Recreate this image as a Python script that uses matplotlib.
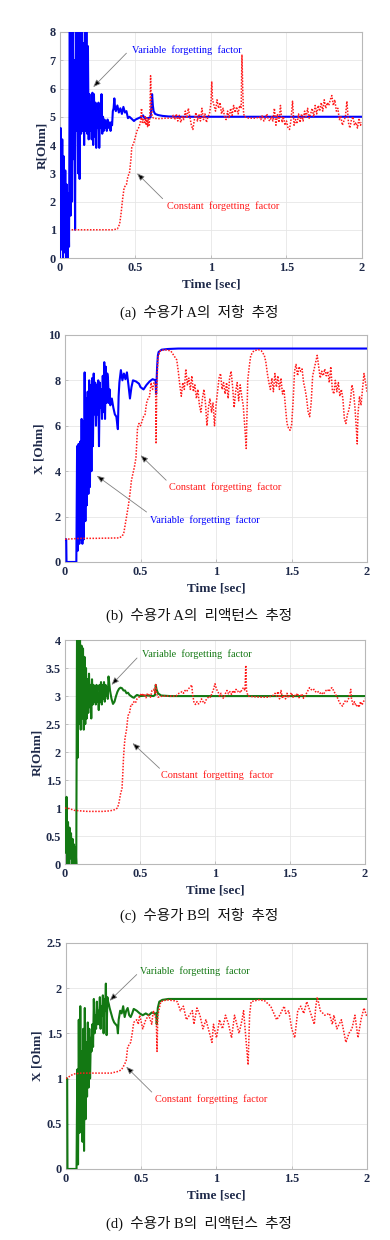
import matplotlib
matplotlib.use('Agg')
import matplotlib.pyplot as plt
from matplotlib.ticker import FuncFormatter

plt.rcParams['font.family'] = ['Liberation Serif', 'Noto Sans CJK KR', 'DejaVu Sans']

# ── Data ──────────────────────────────────────────────────────────────────
# (a) consumer A, resistance
a_var_t = [0.000, 0.005, 0.010, 0.015, 0.020, 0.025, 0.030, 0.035, 0.040, 0.045,
           0.050, 0.055, 0.060, 0.065, 0.070, 0.075, 0.080, 0.085, 0.090, 0.095,
           0.100, 0.105, 0.110, 0.115, 0.120, 0.125, 0.130, 0.135, 0.140, 0.145,
           0.150, 0.155, 0.160, 0.165, 0.170, 0.175, 0.180, 0.185, 0.190, 0.195,
           0.200, 0.205, 0.210, 0.215, 0.220, 0.225, 0.230, 0.235, 0.240, 0.245,
           0.250, 0.255, 0.260, 0.265, 0.270, 0.275, 0.280, 0.285, 0.290, 0.295,
           0.300, 0.305, 0.310, 0.315, 0.320, 0.325, 0.330, 0.335, 0.340, 0.345,
           0.350, 0.355, 0.360, 0.365, 0.37, 0.38, 0.39, 0.40, 0.41, 0.42, 0.43,
           0.44, 0.45, 0.46, 0.47, 0.48, 0.49, 0.50, 0.52, 0.54, 0.55, 0.56, 0.58,
           0.60, 0.605, 0.61, 0.615, 0.62, 0.63, 0.65, 0.68, 0.72, 0.80, 2.00]
a_var_v = [0.0, 4.6, 0.3, 4.2, 0.0, 3.6, 0.2, 3.1, 0.0, 2.6,
           0.0, 2.3, 0.4, 8.5, 1.5, 8.5, 2.0, 8.5, 3.5, 7.0,
           1.0, 8.5, 4.5, 8.5, 3.0, 8.5, 2.8, 8.5, 4.4, 8.5,
           4.5, 7.6, 4.0, 8.5, 4.5, 8.5, 4.4, 7.5, 4.2, 5.8,
           4.5, 5.5, 4.2, 5.85, 4.0, 5.8, 4.3, 5.5, 3.9, 5.2,
           4.6, 5.5, 3.9, 5.2, 4.6, 5.8, 4.4, 5.0, 4.5, 4.9,
           4.6, 4.8, 4.5, 4.9, 4.7, 4.6, 4.8, 4.5, 4.8, 4.7,
           5.2, 5.3, 5.65, 5.3, 5.2, 5.4, 5.15, 5.3, 5.1, 5.35, 5.15,
           5.2, 4.95, 5.0, 4.95, 4.9, 4.85, 4.9, 4.95, 5.0, 5.05, 4.95, 4.95,
           4.98, 5.3, 5.8, 5.4, 5.2, 5.1, 5.06, 5.03, 5.01, 5.0, 5.0]
a_const_t = [0.077, 0.2, 0.35, 0.38, 0.395, 0.405, 0.415, 0.425, 0.44, 0.45, 0.46,
             0.47, 0.475, 0.49, 0.50, 0.51, 0.52, 0.53, 0.535, 0.54, 0.545, 0.55,
             0.56, 0.565, 0.57, 0.575, 0.58, 0.585, 0.59, 0.595, 0.600, 0.605, 0.61,
             0.62, 0.65, 0.70, 0.74, 0.75, 0.76, 0.77, 0.78, 0.79, 0.80, 0.81, 0.82,
             0.83, 0.84, 0.85, 0.86, 0.87, 0.88, 0.89, 0.90, 0.91, 0.92, 0.93, 0.94,
             0.95, 0.96, 0.97, 0.98, 0.99, 1.0, 1.005, 1.01, 1.02, 1.03, 1.04, 1.05,
             1.06, 1.07, 1.08, 1.09, 1.10, 1.11, 1.12, 1.13, 1.14, 1.15, 1.16, 1.17,
             1.18, 1.19, 1.20, 1.205, 1.21, 1.215, 1.22, 1.25, 1.30, 1.32, 1.33, 1.34,
             1.35, 1.36, 1.37, 1.38, 1.39, 1.40, 1.41, 1.42, 1.43, 1.44, 1.45, 1.46,
             1.47, 1.48, 1.49, 1.50, 1.51, 1.52, 1.53, 1.54, 1.55, 1.56, 1.57, 1.58,
             1.59, 1.60, 1.61, 1.62, 1.63, 1.64, 1.65, 1.66, 1.67, 1.68, 1.69, 1.70,
             1.71, 1.72, 1.73, 1.74, 1.75, 1.76, 1.77, 1.78, 1.79, 1.80, 1.81, 1.82,
             1.83, 1.84, 1.85, 1.86, 1.87, 1.88, 1.89, 1.90, 1.91, 1.92, 1.93, 1.94,
             1.95, 1.96, 1.97, 1.98, 1.99, 2.0]
a_const_v = [1.0, 1.0, 1.0, 1.03, 1.2, 1.6, 2.1, 2.5, 2.6, 2.9, 3.0,
             3.5, 3.9, 4.1, 4.3, 4.5, 4.6, 4.75, 4.9, 5.3, 4.8, 4.9,
             4.75, 5.0, 4.7, 4.95, 4.65, 4.9, 4.7, 5.0, 6.45, 5.5, 5.0,
             4.95, 4.93, 4.95, 4.95, 5.05, 4.9, 5.1, 4.85, 5.05, 4.8, 5.0, 4.9,
             5.2, 4.95, 5.3, 5.0, 4.7, 4.55, 4.9, 5.15, 4.85, 5.1, 4.85, 5.3,
             4.9, 5.1, 4.8, 5.0, 5.1, 5.5, 6.25, 5.6, 5.4, 5.2, 5.6, 5.3,
             5.5, 5.1, 5.3, 5.0, 4.9, 5.2, 4.95, 5.3, 5.05, 5.4, 5.15, 5.35,
             5.1, 5.4, 5.3, 7.2, 6.0, 5.2, 5.0, 4.95, 4.95, 5.0, 4.9, 5.05,
             4.85, 4.95, 5.1, 4.9, 4.85, 5.0, 4.85, 5.3, 4.7, 5.1, 4.8, 5.4,
             4.8, 5.0, 4.7, 4.85, 4.6, 4.55, 4.9, 5.55, 4.7, 4.9, 4.75, 5.1,
             4.8, 5.1, 4.85, 5.2, 5.0, 5.3, 4.95, 5.1, 5.3, 5.0, 5.4, 5.1,
             5.4, 5.2, 5.5, 5.2, 5.6, 5.3, 5.5, 5.4, 5.6, 5.75, 5.4, 5.6,
             5.2, 5.3, 4.9, 5.0, 4.7, 4.85, 5.0, 5.55, 4.8, 4.6, 4.9, 5.0,
             4.7, 4.8, 4.6, 4.95, 4.7, 4.8]

# (b) consumer A, reactance
b_var_t = [0.0, 0.008, 0.010, 0.075, 0.080, 0.085, 0.090, 0.095, 0.100, 0.105,
           0.110, 0.115, 0.120, 0.125, 0.130, 0.135, 0.140, 0.145, 0.150, 0.155,
           0.160, 0.165, 0.170, 0.175, 0.180, 0.185, 0.190, 0.195, 0.200, 0.205,
           0.210, 0.215, 0.220, 0.225, 0.230, 0.235, 0.240, 0.245, 0.250, 0.255,
           0.260, 0.265, 0.270, 0.275, 0.280, 0.285, 0.290, 0.295, 0.300, 0.310,
           0.320, 0.330, 0.340, 0.350, 0.355, 0.360, 0.370, 0.38, 0.39, 0.40, 0.41,
           0.42, 0.43, 0.44, 0.45, 0.47, 0.49, 0.50, 0.52, 0.54, 0.56, 0.58, 0.60,
           0.603, 0.61, 0.615, 0.62, 0.64, 0.68, 0.75, 2.0]
b_var_v = [1.0, 1.0, 0.0, 0.0, 5.1, 0.5, 5.2, 0.8, 5.3, 1.0,
           6.3, 0.8, 6.2, 1.0, 8.35, 1.8, 7.2, 2.5, 7.5, 3.0,
           8.0, 3.3, 7.8, 4.0, 8.1, 5.1, 8.3, 6.5, 7.9, 6.0,
           7.8, 6.5, 8.0, 5.1, 7.9, 6.8, 7.6, 6.3, 8.2, 6.6,
           8.8, 6.3, 8.6, 7.0, 8.3, 8.0, 7.0, 7.6, 6.9, 7.2,
           6.8, 6.5, 6.4, 5.85, 7.3, 7.9, 8.45, 8.0, 8.3, 8.05, 8.35,
           7.8, 7.2, 7.7, 8.0, 7.95, 7.85, 7.7, 7.6, 7.8, 7.95, 8.05, 8.0,
           7.4, 8.6, 9.1, 9.25, 9.35, 9.38, 9.4, 9.4]
b_const_t = [0.0, 0.05, 0.1, 0.2, 0.3, 0.36, 0.38, 0.39, 0.40, 0.41, 0.42, 0.43,
             0.44, 0.45, 0.46, 0.47, 0.48, 0.49, 0.50, 0.51, 0.52, 0.53, 0.54, 0.55,
             0.56, 0.57, 0.58, 0.59, 0.60, 0.603, 0.607, 0.615, 0.63, 0.66, 0.70,
             0.72, 0.74, 0.75, 0.76, 0.77, 0.78, 0.79, 0.80, 0.81, 0.82, 0.83, 0.84,
             0.85, 0.86, 0.87, 0.88, 0.89, 0.90, 0.91, 0.92, 0.93, 0.94, 0.95, 0.96,
             0.97, 0.98, 0.99, 1.00, 1.01, 1.02, 1.03, 1.04, 1.05, 1.06, 1.07, 1.08,
             1.09, 1.10, 1.11, 1.12, 1.13, 1.14, 1.15, 1.16, 1.17, 1.18, 1.19, 1.20,
             1.205, 1.21, 1.22, 1.23, 1.25, 1.28, 1.30, 1.32, 1.33, 1.34, 1.35, 1.36,
             1.37, 1.38, 1.39, 1.40, 1.41, 1.42, 1.43, 1.44, 1.45, 1.46, 1.47, 1.48,
             1.49, 1.50, 1.51, 1.52, 1.53, 1.54, 1.55, 1.56, 1.57, 1.58, 1.59, 1.60,
             1.61, 1.62, 1.63, 1.64, 1.65, 1.66, 1.67, 1.68, 1.69, 1.70, 1.71, 1.72,
             1.73, 1.74, 1.75, 1.76, 1.77, 1.78, 1.79, 1.80, 1.81, 1.82, 1.83, 1.84,
             1.85, 1.86, 1.87, 1.88, 1.89, 1.90, 1.91, 1.92, 1.93, 1.935, 1.94, 1.95,
             1.96, 1.97, 1.98, 1.99, 2.0]
b_const_v = [1.0, 1.02, 1.04, 1.04, 1.05, 1.06, 1.15, 1.3, 1.7, 2.1, 2.5, 3.0,
             3.6, 3.9, 4.2, 4.6, 5.9, 6.1, 6.0, 6.2, 6.4, 6.5, 7.0, 7.2,
             7.3, 7.9, 7.6, 7.9, 7.8, 5.2, 7.5, 9.0, 9.3, 9.35, 9.3,
             9.1, 8.9, 8.4, 7.8, 7.3, 7.9, 7.6, 8.5, 7.8, 8.1, 7.6, 8.2,
             7.5, 7.8, 7.2, 7.6, 6.9, 6.6, 7.2, 7.6, 7.0, 6.0, 6.8, 7.2,
             6.6, 7.0, 6.0, 6.9, 7.5, 8.1, 8.3, 7.6, 7.9, 7.4, 7.9, 7.2,
             8.1, 8.4, 7.7, 6.8, 7.5, 7.9, 7.1, 7.8, 7.3, 6.9, 6.0, 5.0,
             6.5, 8.0, 8.6, 9.1, 9.3, 9.35, 9.3, 9.1, 8.8, 8.3, 7.9, 7.6,
             8.1, 7.5, 8.3, 7.7, 8.2, 7.6, 8.1, 7.4, 7.6, 6.8, 6.1, 5.9,
             5.8, 6.0, 7.0, 8.4, 8.7, 8.2, 8.6, 8.4, 8.5, 7.9, 7.6, 7.2,
             6.6, 6.4, 7.0, 8.2, 8.5, 8.8, 9.1, 8.6, 8.1, 8.4, 8.2, 8.5,
             8.2, 8.4, 7.9, 8.6, 7.6, 7.4, 8.0, 7.5, 7.9, 7.3, 7.6, 7.2,
             6.3, 6.1, 6.5, 6.7, 7.1, 7.8, 7.5, 6.8, 5.8, 5.2, 6.5, 7.3,
             6.9, 7.6, 8.3, 7.9, 7.5]

# (c) consumer B, resistance
c_var_t = [0.000, 0.005, 0.010, 0.015, 0.020, 0.025, 0.030, 0.035, 0.040, 0.045,
           0.050, 0.055, 0.060, 0.065, 0.070, 0.075, 0.080, 0.085, 0.090, 0.095,
           0.100, 0.105, 0.110, 0.115, 0.120, 0.125, 0.130, 0.135, 0.140, 0.145,
           0.150, 0.155, 0.160, 0.165, 0.170, 0.175, 0.180, 0.185, 0.190, 0.195,
           0.200, 0.205, 0.210, 0.215, 0.220, 0.225, 0.230, 0.235, 0.240, 0.245,
           0.250, 0.255, 0.260, 0.265, 0.270, 0.275, 0.280, 0.285, 0.29, 0.30,
           0.31, 0.32, 0.33, 0.34, 0.35, 0.36, 0.37, 0.38, 0.39, 0.40, 0.41, 0.42,
           0.43, 0.44, 0.45, 0.46, 0.47, 0.48, 0.50, 0.55, 0.59, 0.60, 0.605, 0.61,
           0.62, 0.64, 0.70, 2.0]
c_var_v = [1.0, 0.2, 1.2, 0.0, 0.75, 0.0, 0.65, 0.1, 0.55, 0.0,
           0.45, 0.0, 0.35, 0.0, 0.3, 0.0, 4.1, 1.9, 4.1, 2.5,
           4.1, 2.4, 3.9, 2.6, 3.85, 2.4, 3.7, 2.5, 3.5, 2.6,
           3.3, 2.7, 3.4, 2.8, 3.2, 2.6, 3.3, 2.85, 3.2, 2.9,
           3.1, 2.85, 3.2, 2.9, 3.05, 2.75, 3.2, 2.9, 3.25, 2.85,
           3.2, 2.95, 3.25, 2.9, 3.2, 3.0, 3.15, 2.95, 3.35, 3.1,
           2.95, 2.86, 2.9, 3.0, 3.08, 3.13, 3.15, 3.14, 3.1, 3.1, 3.05, 3.06,
           3.02, 3.0, 2.98, 2.97, 3.0, 3.02, 3.0, 3.01, 3.0, 3.02, 3.2, 3.12,
           3.05, 3.01, 3.0, 3.0]
c_const_t = [0.0, 0.03, 0.06, 0.1, 0.15, 0.25, 0.3, 0.33, 0.35, 0.36, 0.37, 0.38,
             0.385, 0.39, 0.395, 0.40, 0.41, 0.42, 0.43, 0.44, 0.45, 0.46, 0.47,
             0.48, 0.49, 0.50, 0.51, 0.52, 0.53, 0.54, 0.55, 0.56, 0.57, 0.58, 0.59,
             0.60, 0.605, 0.61, 0.62, 0.65, 0.70, 0.74, 0.75, 0.76, 0.77, 0.78, 0.79,
             0.80, 0.81, 0.82, 0.83, 0.84, 0.845, 0.85, 0.86, 0.87, 0.88, 0.89, 0.90,
             0.91, 0.92, 0.93, 0.94, 0.95, 0.96, 0.97, 0.98, 0.99, 1.00, 1.01, 1.02,
             1.03, 1.04, 1.05, 1.06, 1.07, 1.08, 1.09, 1.10, 1.11, 1.12, 1.13, 1.14,
             1.15, 1.16, 1.17, 1.18, 1.19, 1.20, 1.205, 1.21, 1.22, 1.25, 1.30, 1.35,
             1.38, 1.39, 1.40, 1.41, 1.42, 1.43, 1.44, 1.45, 1.46, 1.47, 1.48, 1.49,
             1.50, 1.51, 1.52, 1.53, 1.54, 1.55, 1.56, 1.57, 1.58, 1.59, 1.60, 1.61,
             1.62, 1.63, 1.64, 1.65, 1.66, 1.67, 1.68, 1.69, 1.70, 1.71, 1.72, 1.73,
             1.74, 1.75, 1.76, 1.77, 1.78, 1.79, 1.80, 1.81, 1.82, 1.83, 1.84, 1.85,
             1.86, 1.87, 1.88, 1.89, 1.90, 1.905, 1.91, 1.92, 1.93, 1.94, 1.95, 1.96,
             1.97, 1.98, 1.99, 2.0]
c_const_v = [1.0, 0.99, 0.96, 0.95, 0.94, 0.94, 0.95, 0.97, 1.0, 1.1, 1.25, 1.35,
             1.6, 1.9, 2.1, 2.25, 2.4, 2.65, 2.7, 2.85, 2.85, 2.9, 2.88,
             2.95, 2.97, 3.0, 3.05, 3.0, 3.04, 2.97, 3.05, 3.02, 2.98, 3.1, 3.12,
             3.05, 3.22, 3.05, 2.98, 3.0, 3.0, 3.0, 3.03, 3.05, 3.06, 3.08, 3.05,
             3.1, 3.08, 3.12, 3.15, 3.18, 3.2, 3.05, 2.88, 2.85, 2.9, 2.86, 2.88,
             2.95, 2.9, 2.87, 2.93, 2.96, 3.0, 2.98, 3.05, 3.12, 3.22, 3.12, 3.08,
             3.0, 3.05, 2.97, 2.96, 3.05, 3.1, 3.04, 3.08, 3.03, 3.1, 3.05, 3.12,
             3.08, 3.1, 3.06, 3.12, 3.15, 3.1, 3.55, 3.1, 3.0, 2.99, 2.98, 2.98,
             3.0, 3.02, 3.05, 3.0, 3.08, 2.95, 3.1, 2.96, 3.02, 2.95, 3.05, 2.97,
             3.02, 3.06, 2.98, 3.02, 3.0, 3.05, 2.97, 3.0, 3.04, 2.96, 3.0, 3.05,
             3.1, 3.15, 3.12, 3.1, 3.12, 3.08, 3.06, 3.08, 3.05, 3.07, 3.03, 3.06,
             3.1, 3.12, 3.08, 3.13, 3.15, 3.1, 3.05, 3.0, 2.95, 2.88, 2.85, 2.82,
             2.88, 2.92, 2.9, 2.95, 3.05, 3.12, 2.95, 2.85, 2.9, 2.82, 2.85, 2.8,
             2.9, 2.84, 2.9, 2.95]

# (d) consumer B, reactance
d_var_t = [0.0, 0.008, 0.010, 0.070, 0.075, 0.080, 0.085, 0.090, 0.095, 0.100,
           0.105, 0.110, 0.115, 0.120, 0.125, 0.130, 0.135, 0.140, 0.145, 0.150,
           0.155, 0.160, 0.165, 0.170, 0.175, 0.180, 0.185, 0.190, 0.195, 0.200,
           0.205, 0.210, 0.215, 0.220, 0.225, 0.230, 0.235, 0.240, 0.245, 0.250,
           0.255, 0.260, 0.265, 0.270, 0.275, 0.280, 0.285, 0.290, 0.30, 0.31,
           0.32, 0.33, 0.34, 0.345, 0.35, 0.36, 0.37, 0.38, 0.39, 0.40, 0.41, 0.42,
           0.43, 0.44, 0.45, 0.47, 0.49, 0.51, 0.53, 0.55, 0.57, 0.59, 0.60, 0.603,
           0.61, 0.62, 0.64, 0.68, 2.0]
d_var_v = [1.0, 1.0, 0.0, 0.0, 1.1, 0.05, 1.65, 0.4, 1.8, 0.6,
           1.3, 0.3, 1.55, 0.2, 1.78, 0.55, 1.4, 0.8, 1.62, 0.9,
           1.55, 1.0, 1.45, 1.3, 1.6, 1.35, 1.88, 1.5, 1.7, 1.55,
           1.85, 1.6, 1.75, 1.6, 1.9, 1.55, 1.8, 1.7, 1.92, 1.5,
           1.88, 1.75, 2.05, 1.48, 1.9, 1.85, 1.82, 1.78, 1.72, 1.66,
           1.62, 1.6, 1.58, 1.5, 1.65, 1.75, 1.72, 1.8, 1.68, 1.75, 1.78, 1.7,
           1.68, 1.72, 1.77, 1.75, 1.72, 1.7, 1.72, 1.7, 1.73, 1.72, 1.72, 1.6,
           1.78, 1.85, 1.87, 1.88, 1.88]
d_const_t = [0.0, 0.02, 0.05, 0.1, 0.2, 0.3, 0.35, 0.37, 0.39, 0.40, 0.41, 0.43,
             0.44, 0.45, 0.47, 0.48, 0.49, 0.51, 0.53, 0.55, 0.57, 0.58, 0.60,
             0.605, 0.61, 0.63, 0.67, 0.72, 0.74, 0.76, 0.78, 0.80, 0.82, 0.84,
             0.85, 0.87, 0.89, 0.91, 0.93, 0.97, 0.98, 1.00, 1.02, 1.04, 1.06,
             1.08, 1.10, 1.12, 1.15, 1.17, 1.18, 1.21, 1.22, 1.23, 1.28, 1.32,
             1.36, 1.40, 1.42, 1.45, 1.46, 1.48, 1.50, 1.52, 1.54, 1.56, 1.58,
             1.60, 1.62, 1.65, 1.66, 1.67, 1.69, 1.72, 1.75, 1.77, 1.78, 1.80,
             1.83, 1.86, 1.88, 1.90, 1.92, 1.94, 1.96, 1.98, 2.0]
d_const_v = [1.0, 1.02, 1.05, 1.06, 1.06, 1.06, 1.08, 1.1, 1.16, 1.2, 1.35, 1.4,
             1.5, 1.62, 1.65, 1.6, 1.7, 1.55, 1.65, 1.7, 1.6, 1.75, 1.65,
             1.3, 1.7, 1.85, 1.87, 1.86, 1.85, 1.75, 1.8, 1.65, 1.7, 1.75,
             1.6, 1.78, 1.7, 1.55, 1.65, 1.4, 1.6, 1.45, 1.65, 1.55, 1.7,
             1.6, 1.45, 1.7, 1.5, 1.65, 1.75, 1.15, 1.7, 1.85, 1.87, 1.86,
             1.8, 1.65, 1.7, 1.8, 1.72, 1.75, 1.55, 1.45, 1.75, 1.8, 1.72,
             1.85, 1.75, 1.6, 1.8, 1.9, 1.75, 1.7, 1.72, 1.6, 1.7, 1.55,
             1.65, 1.4, 1.5, 1.55, 1.7, 1.45, 1.65, 1.78, 1.68]

# ── Styling ───────────────────────────────────────────────────────────────
BLUE = '#0000ff'
GREEN = '#137813'
RED = '#ff1a1a'
NAVY = '#1f2a4a'
SPINE = '#b8b8b8'
GRID = '#e6e6e6'

TXT_VAR = 'Variable  forgetting  factor'
TXT_CON = 'Constant  forgetting  factor'

panels = [
    dict(rect=[0.1538, 0.7919, 0.7744, 0.1823], var=(a_var_t, a_var_v),
         con=(a_const_t, a_const_v), col=BLUE, ylim=8, yticks=[0, 1, 2, 3, 4, 5, 6, 7, 8],
         ylabel='R[Ohm]', ylab_x=-0.04, caption='(a)  수용가 A의  저항  추정', cap_y=312,
         var_txt=(0.48, 7.35), var_arr=((0.44, 7.25), (0.22, 6.05)),
         con_txt=(0.71, 1.85), con_arr=((0.68, 2.1), (0.51, 3.0))),
    dict(rect=[0.1667, 0.5468, 0.7744, 0.1831], var=(b_var_t, b_var_v),
         con=(b_const_t, b_const_v), col=BLUE, ylim=10, yticks=[0, 2, 4, 6, 8, 10],
         ylabel='X [Ohm]', ylab_x=-0.066, caption='(b)  수용가 A의  리액턴스  추정', cap_y=615,
         var_txt=(0.56, 1.85), var_arr=((0.54, 2.2), (0.21, 3.8)),
         con_txt=(0.69, 3.3), con_arr=((0.67, 3.6), (0.50, 4.7))),
    dict(rect=[0.1667, 0.3032, 0.7692, 0.1806], var=(c_var_t, c_var_v),
         con=(c_const_t, c_const_v), col=GREEN, ylim=4,
         yticks=[0, 0.5, 1, 1.5, 2, 2.5, 3, 3.5, 4],
         ylabel='R[Ohm]', ylab_x=-0.073, caption='(c)  수용가 B의  저항  추정', cap_y=915,
         var_txt=(0.51, 3.75), var_arr=((0.48, 3.68), (0.31, 3.2)),
         con_txt=(0.64, 1.59), con_arr=((0.63, 1.71), (0.45, 2.16))),
    dict(rect=[0.1692, 0.0573, 0.7718, 0.1823], var=(d_var_t, d_var_v),
         con=(d_const_t, d_const_v), col=GREEN, ylim=2.5,
         yticks=[0, 0.5, 1, 1.5, 2, 2.5],
         ylabel='X [Ohm]', ylab_x=-0.076, caption='(d)  수용가 B의  리액턴스  추정', cap_y=1223,
         var_txt=(0.49, 2.19), var_arr=((0.47, 2.15), (0.29, 1.86)),
         con_txt=(0.59, 0.77), con_arr=((0.57, 0.85), (0.40, 1.13))),
]

fig = plt.figure(figsize=(3.9, 12.4), dpi=100)
fig.patch.set_facecolor('white')

fmt = FuncFormatter(lambda v, _: f'{v:g}')

for p in panels:
    ax = fig.add_axes(p['rect'])
    ax.set_xlim(0, 2)
    ax.set_ylim(0, p['ylim'])
    ax.set_xticks([0, 0.5, 1, 1.5, 2])
    ax.set_yticks(p['yticks'])
    ax.xaxis.set_major_formatter(fmt)
    ax.yaxis.set_major_formatter(fmt)
    ax.grid(True, color=GRID, lw=0.6)
    ax.set_axisbelow(True)
    for s in ax.spines.values():
        s.set_color(SPINE)
        s.set_linewidth(0.8)
    ax.tick_params(direction='in', length=2.5, width=0.6, color=SPINE,
                   labelsize=8.8, labelcolor=NAVY, pad=3)
    for lab in ax.get_xticklabels() + ax.get_yticklabels():
        lab.set_fontweight('bold')

    ax.plot(*p['var'], color=p['col'], lw=1.5, zorder=3, clip_on=True)
    ax.plot(*p['con'], color=RED, lw=1.1, ls=(0, (1, 1)), zorder=4, clip_on=True)

    ax.set_xlabel('Time [sec]', fontsize=9.5, fontweight='bold', color=NAVY)
    ax.xaxis.set_label_coords(0.5, -0.09)
    ax.set_ylabel(p['ylabel'], fontsize=9.5, fontweight='bold', color=NAVY)
    ax.yaxis.set_label_coords(p['ylab_x'], 0.5)

    arrow_kw = dict(arrowstyle='-|>,head_length=0.45,head_width=0.18',
                    color='#808080', lw=0.6, shrinkA=0, shrinkB=0)
    ax.annotate('', xy=p['var_arr'][1], xytext=p['var_arr'][0],
                arrowprops=dict(fc='black', **arrow_kw), zorder=6)
    ax.annotate('', xy=p['con_arr'][1], xytext=p['con_arr'][0],
                arrowprops=dict(fc='black', **arrow_kw), zorder=6)
    ax.text(*p['var_txt'], TXT_VAR, color=p['col'], fontsize=7.4,
            ha='left', va='center', zorder=7)
    ax.text(*p['con_txt'], TXT_CON, color=RED, fontsize=7.4,
            ha='left', va='center', zorder=7)

    fig.text(0.51, 1 - p['cap_y'] / 1240, p['caption'], ha='center', va='center',
             fontsize=10.5, color='#111111')

fig.savefig('out.png', dpi=100)
